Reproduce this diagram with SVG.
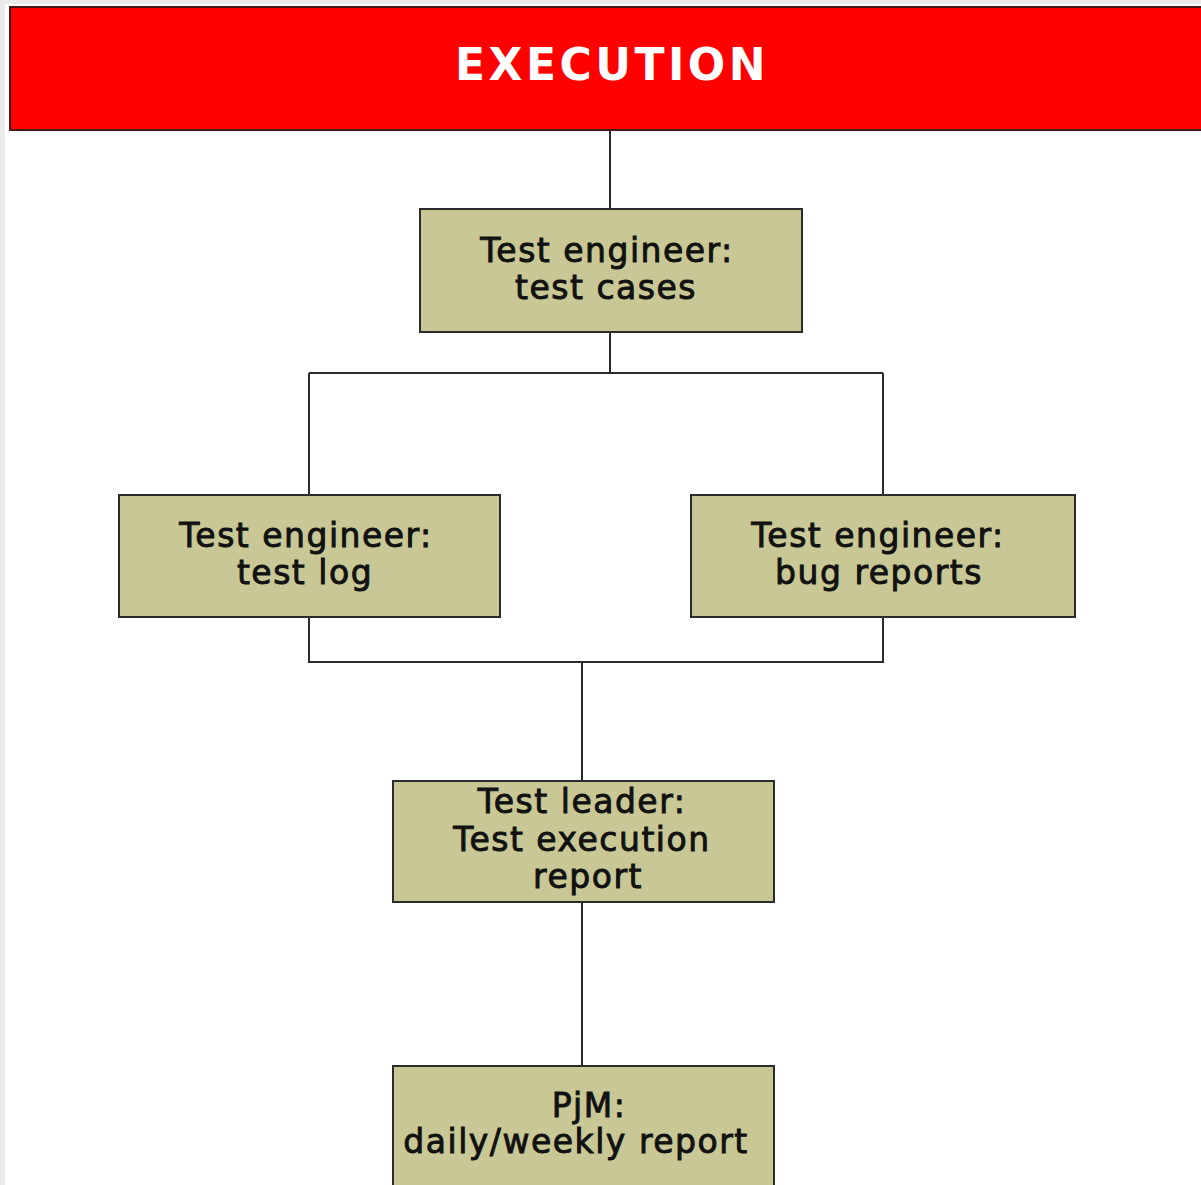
<svg xmlns="http://www.w3.org/2000/svg" width="1201" height="1185" viewBox="0 0 1201 1185">
<style>
.node{fill:#c8c795;stroke:#2b2b2b;stroke-width:2}
.lbl{font-family:"DejaVu Sans","Verdana",sans-serif;font-size:33px;fill:#111;stroke:#111;stroke-width:0.9;letter-spacing:1.5px;text-anchor:middle}
.conn{fill:none;stroke:#2b2b2b;stroke-width:2}
.title{font-family:"DejaVu Sans","Verdana",sans-serif;font-weight:bold;font-size:44px;fill:#fff;letter-spacing:3.5px;text-anchor:middle}
</style>
<rect x="0" y="0" width="1201" height="1185" fill="#ebebeb"/>
<rect x="5" y="4" width="1196" height="1181" fill="#ffffff"/>
<g id="connectors">
<path class="conn" d="M610 130 V210"/>
<path class="conn" d="M610 332 V373 M309 373 H883 M309 373 V495 M883 373 V495"/>
<path class="conn" d="M309 617 V662 H883 V617 M582 662 V781"/>
<path class="conn" d="M582 902 V1066"/>
</g>
<g id="header">
<rect x="10" y="7" width="1200" height="123" fill="#ff0000" stroke="#4a1a1a" stroke-width="2"/>
<text class="title" x="612" y="80">EXECUTION</text>
</g>
<g id="node-test-cases">
<rect class="node" x="420" y="209" width="382" height="123"/>
<text class="lbl" x="607" y="262">Test engineer:</text>
<text class="lbl" x="606" y="299">test cases</text>
</g>
<g id="node-test-log">
<rect class="node" x="119" y="495" width="381" height="122"/>
<text class="lbl" x="306" y="547">Test engineer:</text>
<text class="lbl" x="305" y="584">test log</text>
</g>
<g id="node-bug-reports">
<rect class="node" x="691" y="495" width="384" height="122"/>
<text class="lbl" x="878" y="547">Test engineer:</text>
<text class="lbl" x="879" y="584">bug reports</text>
</g>
<g id="node-execution-report">
<rect class="node" x="393" y="781" width="381" height="121"/>
<text class="lbl" x="582" y="813">Test leader:</text>
<text class="lbl" x="582" y="851">Test execution</text>
<text class="lbl" x="588" y="888">report</text>
</g>
<g id="node-pjm-report">
<rect class="node" x="393" y="1066" width="381" height="140"/>
<text class="lbl" x="589" y="1117">PjM:</text>
<text class="lbl" x="576" y="1153">daily/weekly report</text>
</g>
</svg>
